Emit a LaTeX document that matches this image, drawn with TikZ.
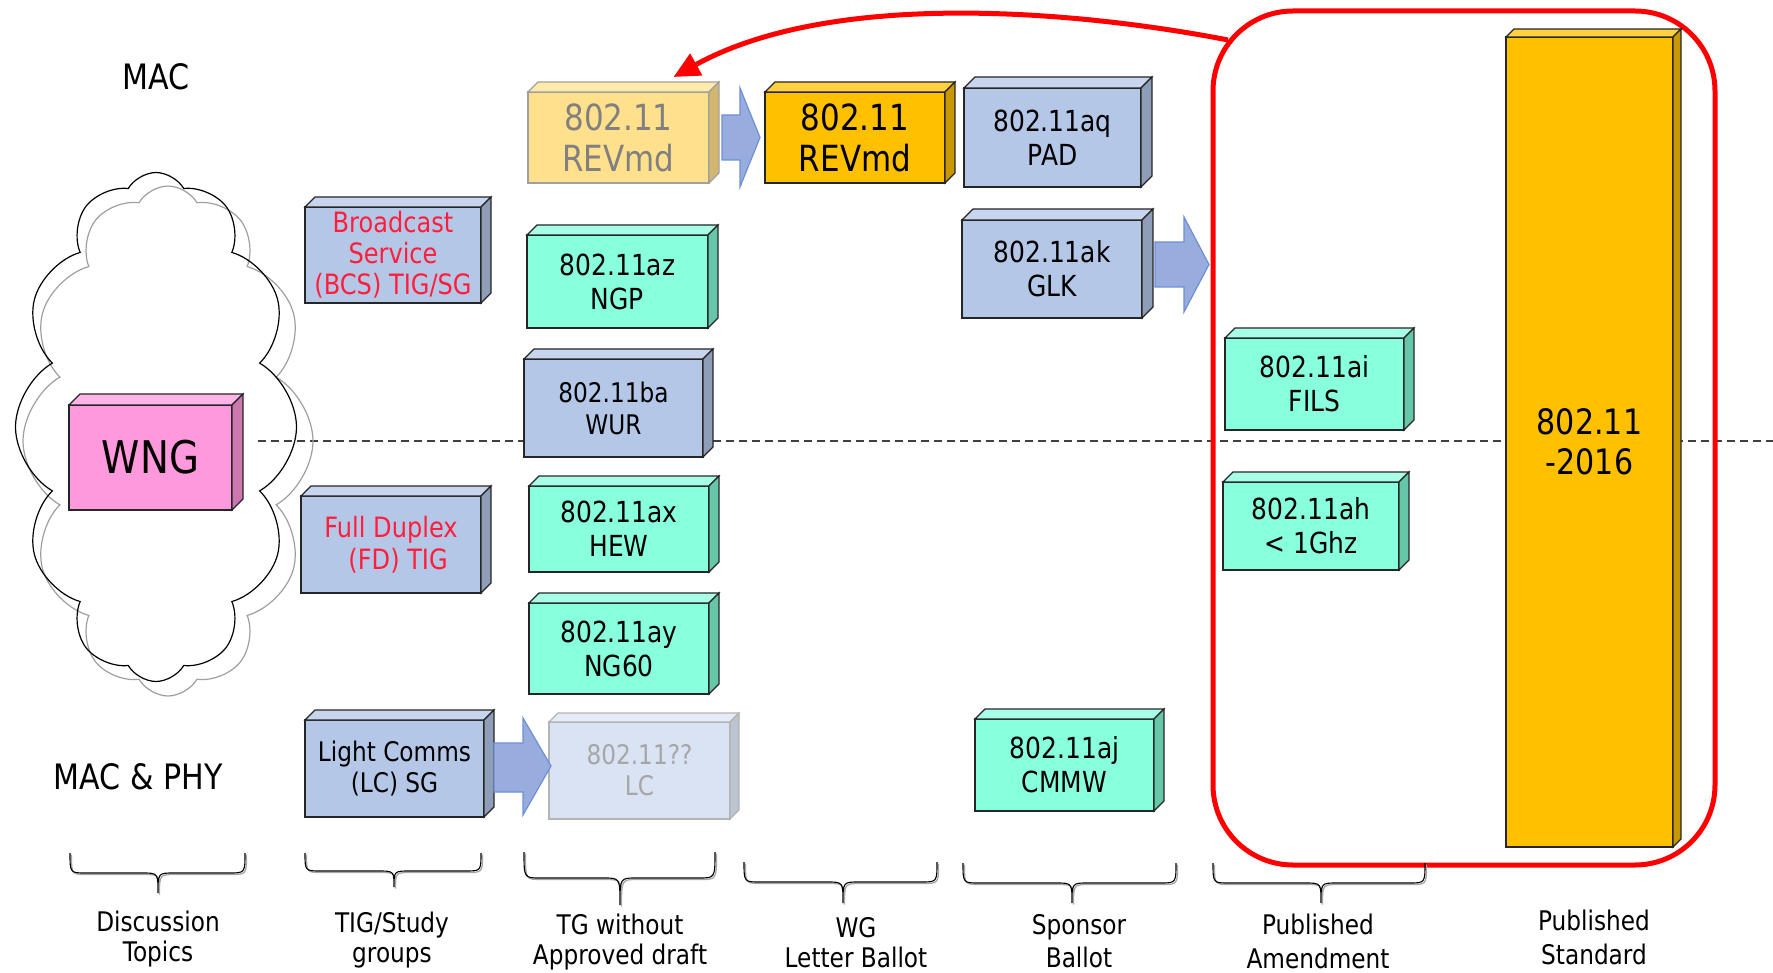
\documentclass[tikz,border=0pt]{standalone}
\usepackage{fontspec}
\setmainfont[FakeStretch=0.86]{DejaVu Sans}
\usetikzlibrary{shapes.symbols,arrows.meta}
\definecolor{bluef}{HTML}{B4C7E7}
\definecolor{bluet}{HTML}{C8D5EE}
\definecolor{blues}{HTML}{8E9DB8}
\definecolor{mintf}{HTML}{88FFDD}
\definecolor{mintt}{HTML}{A6FFE6}
\definecolor{mints}{HTML}{66C6A8}
\definecolor{orf}{HTML}{FFC000}
\definecolor{ort}{HTML}{FFD040}
\definecolor{ors}{HTML}{C99700}
\definecolor{ylf}{HTML}{FFE08C}
\definecolor{ylt}{HTML}{FFEAAA}
\definecolor{yls}{HTML}{D2B76E}
\definecolor{pkf}{HTML}{FF99DD}
\definecolor{pkt}{HTML}{FFB3E6}
\definecolor{pks}{HTML}{CC77AD}
\definecolor{lcf}{HTML}{DAE3F3}
\definecolor{lct}{HTML}{E6ECF7}
\definecolor{lcs}{HTML}{BCC4D2}
\definecolor{edge}{HTML}{262626}
\definecolor{lightedge}{HTML}{A0A0A0}
\definecolor{arrowf}{HTML}{98ACDD}
\definecolor{arrowe}{HTML}{6E8FD6}
\definecolor{redline}{HTML}{FF0000}
\definecolor{redtext}{HTML}{FF1F3D}
\definecolor{graytext}{HTML}{808080}
\definecolor{lgraytext}{HTML}{A6A6A6}
\definecolor{dashc}{HTML}{404040}
\newcommand\fs[2]{\fontsize{#1}{#2}\selectfont}
% #1 node, #2 depth, #3 top colour, #4 side colour, #5 edge colour
\newcommand\boxfaces[5]{%
  \filldraw[fill=#3,draw=#5,line width=1.2] (#1.north west) -- ++(#2,-#2) -- ([shift={(#2,-#2)}]#1.north east) -- (#1.north east) -- cycle;
  \filldraw[fill=#4,draw=#5,line width=1.2] (#1.north east) -- ++(#2,-#2) -- ([shift={(#2,-#2)}]#1.south east) -- (#1.south east) -- cycle;}
% brace: #1 x1, #2 x2, #3 centre, #4 top, #5 mid, #6 tip
\newcommand\pbrace[6]{%
  \draw[gray!70,line width=1.3,shift={(1.5,1.5)}] (#1,#4) .. controls (#1,#5) .. ({#1+16},#5) -- ({#3-16},#5) .. controls (#3,#5) .. (#3,#6) .. controls (#3,#5) .. ({#3+16},#5) -- ({#2-16},#5) .. controls (#2,#5) .. (#2,#4);
  \draw[black,line width=1.1] (#1,#4) .. controls (#1,#5) .. ({#1+16},#5) -- ({#3-16},#5) .. controls (#3,#5) .. (#3,#6) .. controls (#3,#5) .. ({#3+16},#5) -- ({#2-16},#5) .. controls (#2,#5) .. (#2,#4);}
\begin{document}
\begin{tikzpicture}[x=1pt,y=-1pt,
  cubebox/.style={rectangle,inner sep=0,outer sep=0,line width=1.3,align=center,draw=edge,text=black,font=\fs{29}{34}},
  bluebox/.style={cubebox,fill=bluef},
  mintbox/.style={cubebox,fill=mintf},
  blockarrow/.style={fill=arrowf,draw=arrowe,line width=1.2},
  lbl/.style={align=center,inner sep=0,font=\fs{27}{30}},
  side/.style={inner sep=0,font=\fs{35}{40}},
  cloudy/.style={cloud,cloud puffs=12,cloud puff arc=120,cloud ignores aspect,line width=1.2,inner sep=0}]
\useasboundingbox (0,0) rectangle (1773,973);

% dashed divider
\coordinate (dl) at (258,441);
\coordinate (dr) at (1773,441);
\draw[dashc,line width=1.5,dash pattern=on 8pt off 5pt] (dl) -- (dr);

% cloud
\node[cloudy,draw=gray!75,minimum width=290,minimum height=510] (cloudb) at (168,441) {};
\node[cloudy,draw=black,minimum width=281,minimum height=509] (clouda) at (156,427) {};

% side titles
\node[side] (mac) at (156,77) {MAC};
\node[side] (macphy) at (138,777) {MAC \& PHY};

% red publication frame
\node[draw=redline,line width=5,rounded corners=80,minimum width=502,minimum height=854,inner sep=0,outer sep=0] (pub) at (1464,438) {};

% boxes
\node[cubebox,fill=ylf,draw=lightedge,text=graytext,font=\fs{36}{41},minimum width=181,minimum height=91] (revl) at (618.5,137.5) {802.11\\REVmd};
\boxfaces{revl}{10}{ylt}{yls}{lightedge}
\node[cubebox,fill=orf,font=\fs{36}{41},minimum width=180,minimum height=91,line width=1.8] (revo) at (855,137.5) {802.11\\REVmd};
\boxfaces{revo}{10}{ort}{ors}{edge}
\node[bluebox,minimum width=177,minimum height=99] (aq) at (1052.5,137.5) {802.11aq\\PAD};
\boxfaces{aq}{11}{bluet}{blues}{edge}
\node[bluebox,minimum width=180,minimum height=98] (ak) at (1052,269) {802.11ak\\GLK};
\boxfaces{ak}{11}{bluet}{blues}{edge}
\node[mintbox,minimum width=179,minimum height=92] (ai) at (1314.5,384) {802.11ai\\FILS};
\boxfaces{ai}{10}{mintt}{mints}{edge}
\node[mintbox,minimum width=176,minimum height=88] (ah) at (1311,526) {802.11ah\\< 1Ghz};
\boxfaces{ah}{10}{mintt}{mints}{edge}
\node[mintbox,minimum width=179,minimum height=92] (aj) at (1064.5,765) {802.11aj\\CMMW};
\boxfaces{aj}{10}{mintt}{mints}{edge}
\node[cubebox,fill=orf,font=\fs{35}{40},minimum width=167,minimum height=810] (std) at (1589.5,442) {802.11\\-2016};
\boxfaces{std}{8}{ort}{ors}{edge}
\node[cubebox,fill=pkf,font=\fs{45}{50},minimum width=163,minimum height=105] (wng) at (150.5,457.5) {WNG};
\boxfaces{wng}{11}{pkt}{pks}{edge}
\node[bluebox,text=redtext,font=\fs{28}{31},minimum width=176,minimum height=96] (bcs) at (393,255) {Broadcast\\Service\\(BCS) TIG/SG};
\boxfaces{bcs}{10}{bluet}{blues}{edge}
\node[bluebox,text=redtext,font=\fs{28}{32},minimum width=180,minimum height=97] (fd) at (391,544.5) {Full Duplex\\\hphantom{x}(FD) TIG};
\boxfaces{fd}{10}{bluet}{blues}{edge}
\node[mintbox,minimum width=181,minimum height=93] (az) at (617.5,281.5) {802.11az\\NGP};
\boxfaces{az}{10}{mintt}{mints}{edge}
\node[bluebox,font=\fs{27}{32},minimum width=179,minimum height=98] (ba) at (613.5,408) {802.11ba\\WUR};
\boxfaces{ba}{10}{bluet}{blues}{edge}
\node[mintbox,minimum width=180,minimum height=86] (ax) at (619,529) {802.11ax\\HEW};
\boxfaces{ax}{10}{mintt}{mints}{edge}
\node[mintbox,minimum width=180,minimum height=91] (ay) at (619,648.5) {802.11ay\\NG60};
\boxfaces{ay}{10}{mintt}{mints}{edge}
\node[bluebox,font=\fs{27}{31},minimum width=179,minimum height=97,line width=1.8] (lcsg) at (394.5,768.5) {Light Comms\\(LC) SG};
\boxfaces{lcsg}{10}{bluet}{blues}{edge}
\node[cubebox,fill=lcf,draw=lightedge!80,text=lgraytext,font=\fs{27}{31},minimum width=181,minimum height=97] (lc) at (639.5,770.5) {802.11??\\LC};
\boxfaces{lc}{9}{lct}{lcs}{lightedge!80}

% block arrows
\draw[blockarrow] (722,115) -- (740,115) -- (740,88) -- (760,137.5) -- (740,187) -- (740,160) -- (722,160) -- cycle;
\draw[blockarrow] (1155,242) -- (1184,242) -- (1184,217) -- (1209,264.5) -- (1184,312) -- (1184,287) -- (1155,287) -- cycle;
\draw[blockarrow] (494,743) -- (523,743) -- (523,718) -- (551,766) -- (523,815) -- (523,792) -- (494,792) -- cycle;

% red curved arrow
\draw[redline,line width=5,-{Triangle[length=26pt,width=24pt]}] ([shift={(15,29)}]pub.north west) .. controls (1100,15) and (840,-15) .. ([xshift=55,yshift=15]revl.north);

% braces
\pbrace{70}{245}{158}{853}{873}{893}
\pbrace{305}{481}{394}{853}{871}{887}
\pbrace{524}{715}{620}{852}{878}{905}
\pbrace{744}{937}{843}{862}{882}{903}
\pbrace{963}{1176}{1072}{863}{883}{903}
\pbrace{1213}{1425}{1321}{863}{883}{903}

% stage labels
\node[lbl] (l1) at (158,939) {Discussion\\Topics};
\node[lbl] (l2) at (392,940) {TIG/Study\\groups};
\node[lbl] (l3) at (620,942) {TG without\\Approved draft};
\node[lbl] (l4) at (856,943) {WG\\Letter Ballot};
\node[lbl] (l5) at (1079,941) {Sponsor\\[3pt]Ballot};
\node[lbl] (l6) at (1318,941) {Published\\[4pt]Amendment};
\node[lbl] (l7) at (1594,937) {Published\\[4pt]Standard};
\end{tikzpicture}
\end{document}
